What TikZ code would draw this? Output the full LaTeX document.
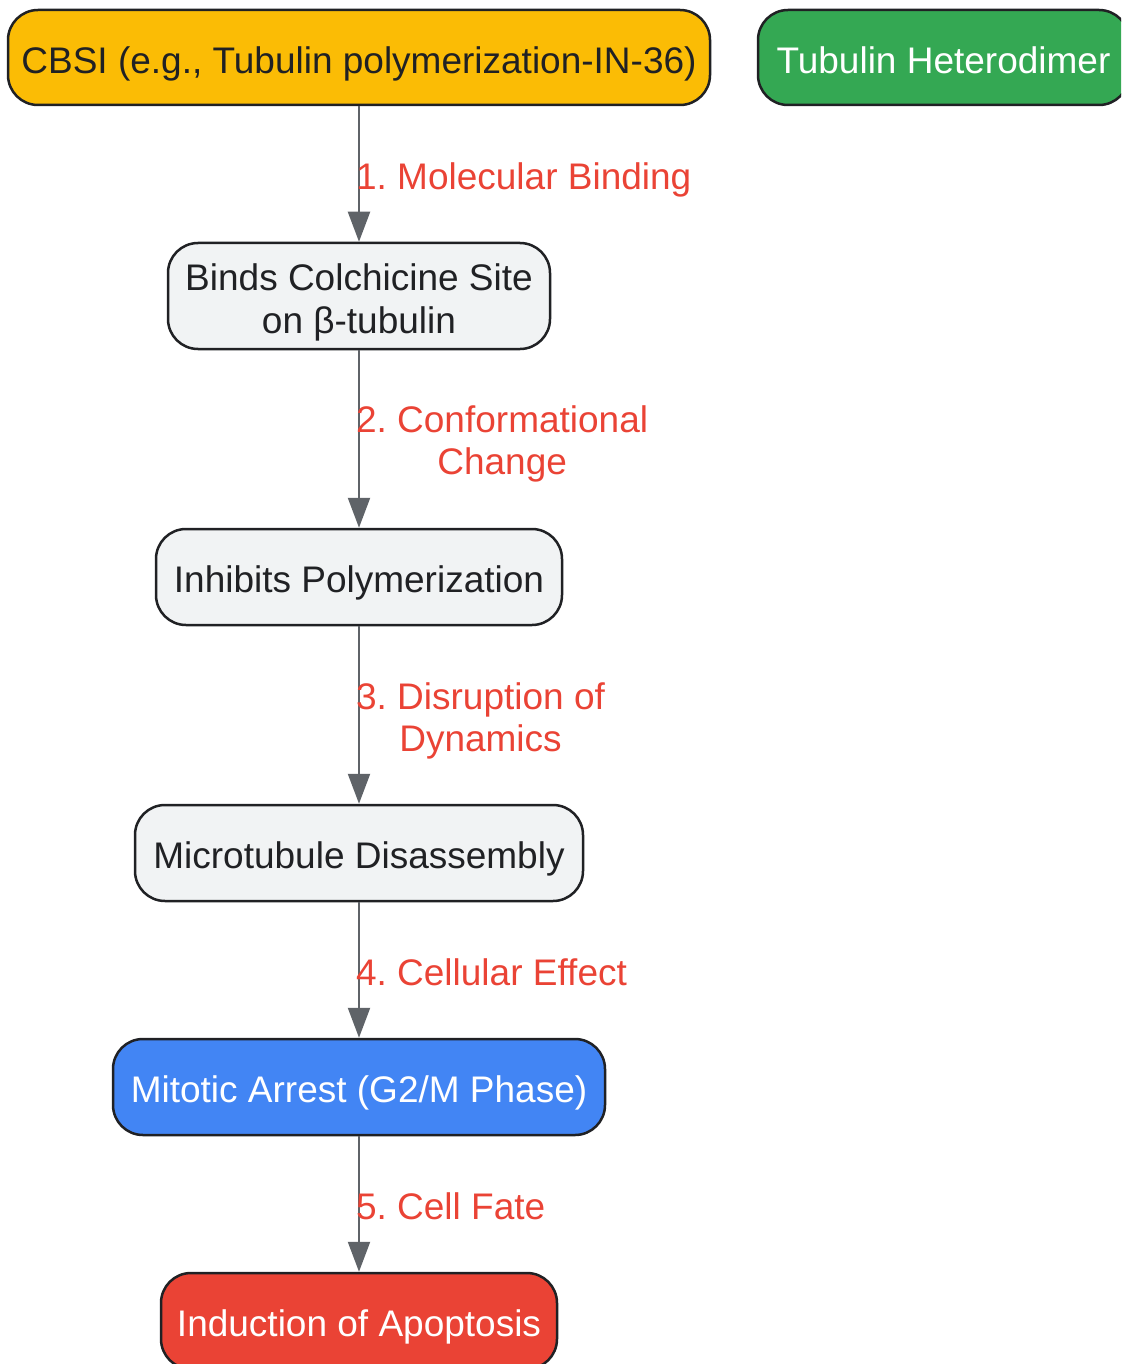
\documentclass[tikz,border=0pt]{standalone}
\usepackage{fontspec}
\setmainfont{Liberation Sans}
\usetikzlibrary{arrows.meta}
\definecolor{cyellow}{HTML}{FBBC05}
\definecolor{cgreen}{HTML}{34A853}
\definecolor{cgrayfill}{HTML}{F1F3F4}
\definecolor{cblue}{HTML}{4285F4}
\definecolor{cred}{HTML}{EA4335}
\definecolor{cstroke}{HTML}{202124}
\definecolor{carrow}{HTML}{5F6368}
\frenchspacing
\begin{document}
\begin{tikzpicture}[x=1pt,y=-1pt,
  box/.style={draw=cstroke, line width=2.5pt, rounded corners=30pt, inner sep=0pt,
    minimum height=96pt, align=center, font=\fontsize{37}{43}\selectfont, text=cstroke},
  oneline/.style={text height=31.5pt, text depth=0pt},
  arr/.style={draw=carrow, line width=2.2pt, -{Triangle[length=30pt,width=22pt]}},
  lbl/.style={anchor=west, inner sep=0pt, xshift=-4pt, align=center, text=cred,
    font=\fontsize{37}{42}\selectfont}]
\useasboundingbox (0,0) rectangle (1121,1364);
\clip (0,0) rectangle (1121,1364);
\node[box, oneline, fill=cyellow, minimum width=702pt, minimum height=95pt] (cbsi) at (359,57.5) {CBSI (e.g., Tubulin polymerization-IN-36)};
\node[box, oneline, fill=cgreen, text=white, minimum width=371pt, minimum height=95pt] (tub) at (943.5,57.5) {Tubulin Heterodimer};
\node[box, text height=74.5pt, text depth=0pt, fill=cgrayfill, minimum width=382pt, minimum height=106pt] (binds) at (359,296) {Binds Colchicine Site\\on β-tubulin};
\node[box, oneline, fill=cgrayfill, minimum width=406pt] (inhib) at (359,577) {Inhibits Polymerization};
\node[box, oneline, fill=cgrayfill, minimum width=448pt] (micro) at (359,853) {Microtubule Disassembly};
\node[box, oneline, fill=cblue, text=white, minimum width=492pt] (mitotic) at (359,1087) {Mitotic Arrest (G2/M Phase)};
\node[box, oneline, fill=cred, text=white, minimum width=396pt] (apop) at (359,1321) {Induction of Apoptosis};
\draw[arr] (cbsi.south) -- (binds.north) node[lbl, oneline, midway] {1. Molecular Binding};
\draw[arr] (binds.south) -- (inhib.north) node[lbl, text depth=0pt, midway, yshift=-1pt] {2. Conformational\\Change};
\draw[arr] (inhib.south) -- (micro.north) node[lbl, text depth=0pt, midway, yshift=-2pt] {3. Disruption of\\Dynamics};
\draw[arr] (micro.south) -- (mitotic.north) node[lbl, oneline, midway] {4. Cellular Effect};
\draw[arr] (mitotic.south) -- (apop.north) node[lbl, oneline, midway] {5. Cell Fate};
\end{tikzpicture}
\end{document}
